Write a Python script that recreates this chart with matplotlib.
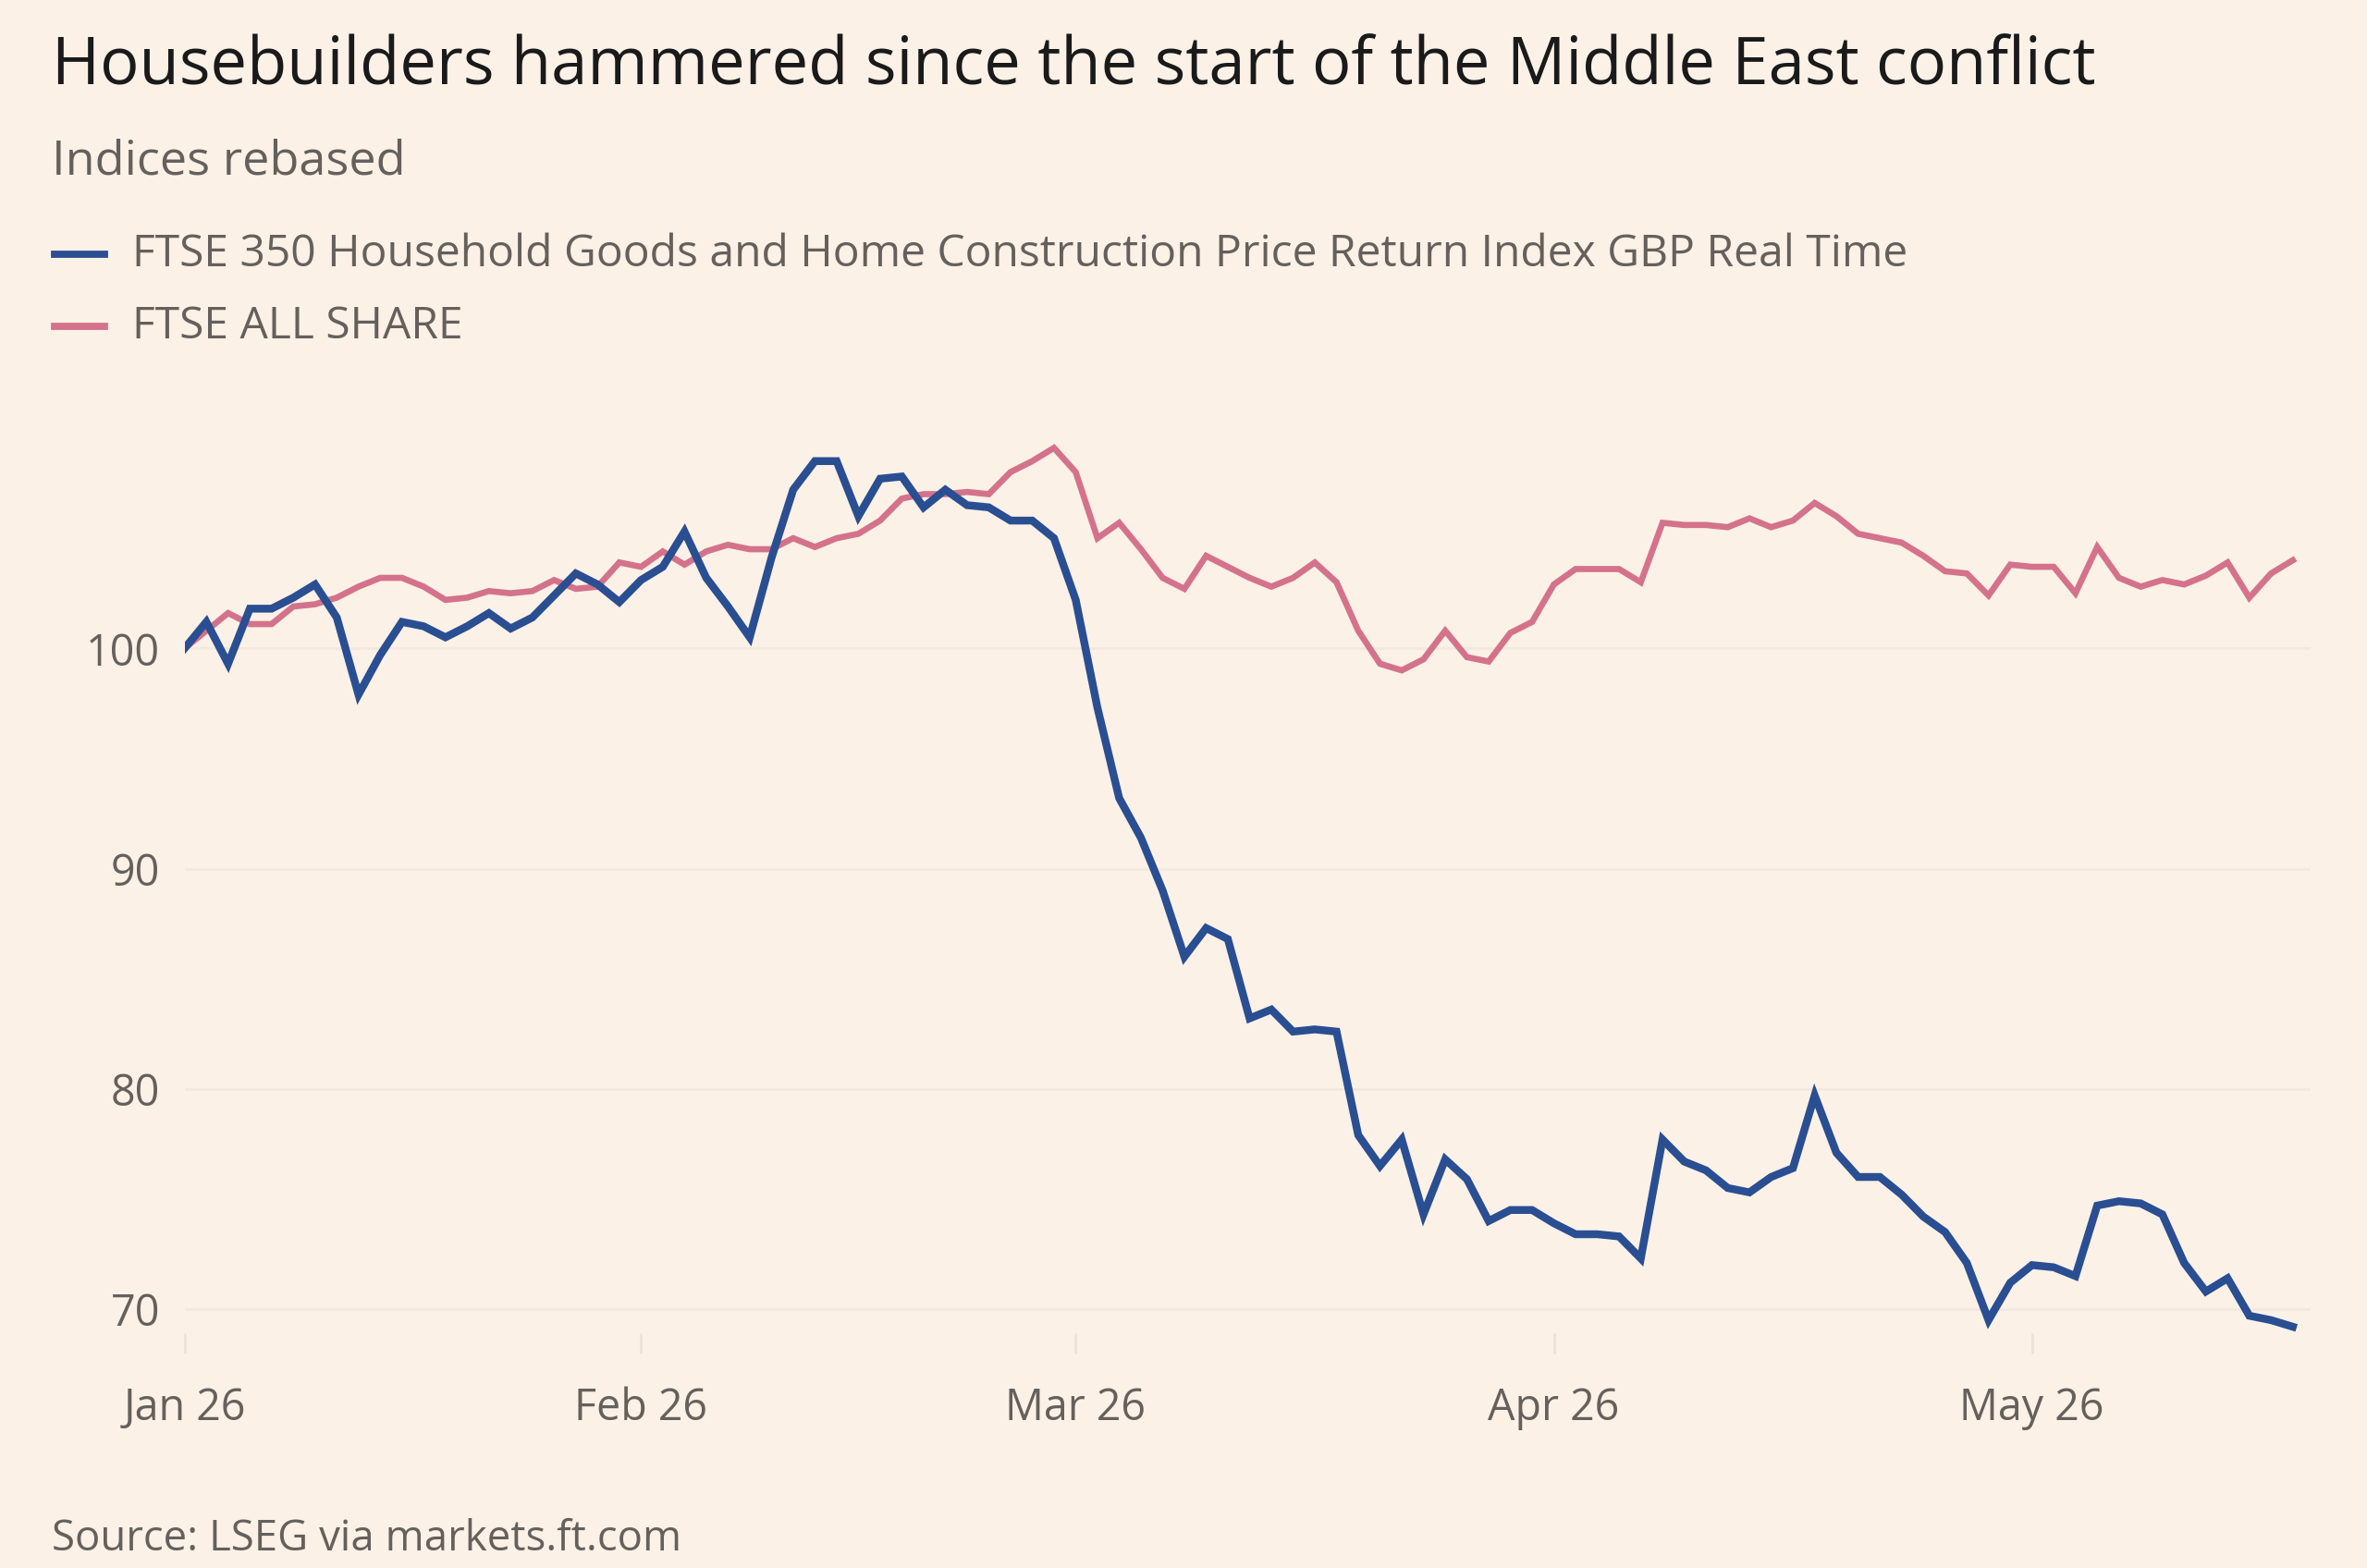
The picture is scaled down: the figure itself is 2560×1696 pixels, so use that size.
import numpy as np
import pandas as pd
import matplotlib
matplotlib.use("Agg")
import matplotlib.pyplot as plt
from matplotlib.lines import Line2D

plt.rcParams["font.family"] = ["Open Sans", "DejaVu Sans"]

# trading days from 2 Jan 2026
dates = pd.bdate_range("2026-01-02", periods=98)

housebuilders = [
    100.0, 101.2, 99.3, 101.8, 101.8, 102.3, 102.9, 101.4, 97.9, 99.7,
    101.2, 101.0, 100.5, 101.0, 101.6, 100.9, 101.4, 102.4, 103.4, 102.9,
    102.1, 103.1, 103.7, 105.3, 103.2, 101.9, 100.5, 104.1, 107.2, 108.5,
    108.5, 106.0, 107.7, 107.8, 106.4, 107.2, 106.5, 106.4, 105.8, 105.8,
    105.0, 102.2, 97.3, 93.2, 91.4, 89.0, 86.0, 87.3, 86.8, 83.2,
    83.6, 82.6, 82.7, 82.6, 77.9, 76.5, 77.7, 74.3, 76.8, 75.9,
    74.0, 74.5, 74.5, 73.9, 73.4, 73.4, 73.3, 72.3, 77.7, 76.7,
    76.3, 75.5, 75.3, 76.0, 76.4, 79.7, 77.1, 76.0, 76.0, 75.2,
    74.2, 73.5, 72.1, 69.5, 71.2, 72.0, 71.9, 71.5, 74.7, 74.9,
    74.8, 74.3, 72.1, 70.8, 71.4, 69.7, 69.5, 69.2,
]
all_share = [
    100.0, 100.8, 101.6, 101.1, 101.1, 101.9, 102.0, 102.3, 102.8, 103.2,
    103.2, 102.8, 102.2, 102.3, 102.6, 102.5, 102.6, 103.1, 102.7, 102.8,
    103.9, 103.7, 104.4, 103.8, 104.4, 104.7, 104.5, 104.5, 105.0, 104.6,
    105.0, 105.2, 105.8, 106.8, 107.0, 107.0, 107.1, 107.0, 108.0, 108.5,
    109.1, 108.0, 105.0, 105.7, 104.5, 103.2, 102.7, 104.2, 103.7, 103.2,
    102.8, 103.2, 103.9, 103.0, 100.8, 99.3, 99.0, 99.5, 100.8, 99.6,
    99.4, 100.7, 101.2, 102.9, 103.6, 103.6, 103.6, 103.0, 105.7, 105.6,
    105.6, 105.5, 105.9, 105.5, 105.8, 106.6, 106.0, 105.2, 105.0, 104.8,
    104.2, 103.5, 103.4, 102.4, 103.8, 103.7, 103.7, 102.5, 104.6, 103.2,
    102.8, 103.1, 102.9, 103.3, 103.9, 102.3, 103.4, 104.0,
]
series_names = [
    "FTSE 350 Household Goods and Home Construction Price Return Index GBP Real Time",
    "FTSE ALL SHARE",
]
y_ticks = [70, 80, 90, 100]

BG = "#fbf1e7"
BLUE = "#2a4e92"
PINK = "#d4728c"
GREY = "#66605c"

x = np.arange(len(dates))
month_start = [i for i in range(len(dates)) if i == 0 or dates[i].month != dates[i - 1].month]
month_labels = [dates[i].strftime("%b %y") for i in month_start]

fig = plt.figure(figsize=(16, 10.6), dpi=160, facecolor=BG)
ax = fig.add_axes([0.078, 0.137, 0.898, 0.59], facecolor=BG)

ax.plot(x, all_share, color=PINK, lw=3.0, solid_joinstyle="miter", zorder=3)
ax.plot(x, housebuilders, color=BLUE, lw=3.8, solid_joinstyle="miter", zorder=4)

ax.set_xlim(0, 97.8)
ax.set_ylim(68, 110)
ax.set_yticks(y_ticks)
ax.set_xticks(month_start)
ax.set_xticklabels(month_labels)
ax.grid(axis="y", color="#f2e8df", lw=1.2)
for s in ax.spines.values():
    s.set_visible(False)
ax.tick_params(axis="y", length=0, pad=12, labelsize=21, labelcolor=GREY)
ax.tick_params(axis="x", length=10, width=1.2, color="#ece2d9", direction="in",
               pad=16, labelsize=21, labelcolor=GREY)

fig.text(0.022, 0.978, "Housebuilders hammered since the start of the Middle East conflict",
         fontsize=31.8, color="#1a1a1a", va="top")
fig.text(0.022, 0.912, "Indices rebased", fontsize=23.5, color=GREY, va="top")
for i, (name, c) in enumerate(zip(series_names, [BLUE, PINK])):
    yy = 0.838 - i * 0.046
    fig.add_artist(Line2D([0.023, 0.044], [yy, yy], color=c, lw=3.5, transform=fig.transFigure))
    fig.text(0.056, yy, name, fontsize=21.6, color=GREY, va="center")
fig.text(0.022, 0.005, "Source: LSEG via markets.ft.com", fontsize=20.5, color=GREY, va="bottom")

fig.savefig("out.png", dpi=160, facecolor=BG)
